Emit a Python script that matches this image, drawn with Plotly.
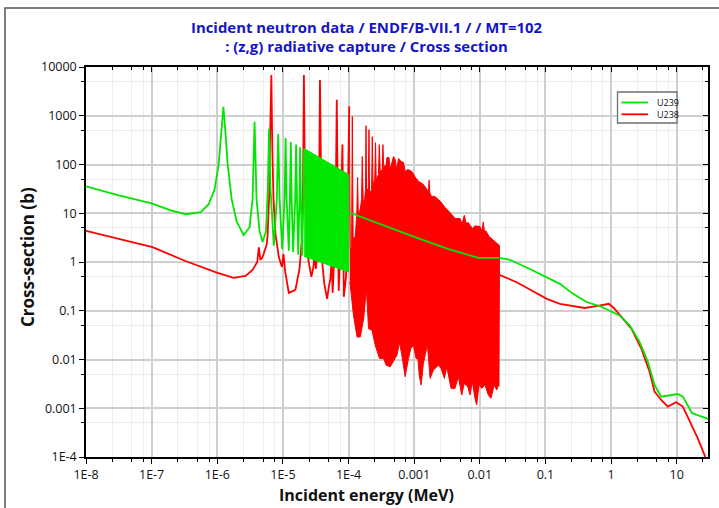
import math
import plotly.graph_objects as go

# ---------------- data (energies in MeV, cross sections in barns) ----------------
x_tick_vals = [1e-8, 1e-7, 1e-6, 1e-5, 1e-4, 1e-3, 1e-2, 1e-1, 1, 10]
x_tick_text = ["1E-8", "1E-7", "1E-6", "1E-5", "1E-4", "0.001", "0.01", "0.1", "1", "10"]
y_tick_vals = [1e-4, 1e-3, 1e-2, 1e-1, 1, 10, 100, 1000, 10000]
y_tick_text = ["1E-4", "0.001", "0.01", "0.1", "1", "10", "100", "1000", "10000"]

title_lines = ["Incident neutron data / ENDF/B-VII.1 / / MT=102",
               ": (z,g) radiative capture / Cross section"]
x_title = "Incident energy (MeV)"
y_title = "Cross-section (b)"
series_names = ["U239", "U238"]

# U239 - resolved, isolated resonances
u239_low_E = [1e-8, 3.18e-8, 1.0e-7, 1.96e-7, 3.31e-7, 5.6e-7, 7.4e-7, 9.1e-7, 1.05e-6, 1.15e-6,
              1.24e-6, 1.34e-6, 1.44e-6, 1.66e-6, 1.97e-6, 2.52e-6, 3.11e-6, 3.45e-6, 3.70e-6, 3.97e-6,
              4.41e-6, 4.90e-6, 5.53e-6, 5.89e-6, 6.15e-6, 6.48e-6, 7.27e-6, 8.07e-6, 8.49e-6, 8.91e-6,
              9.76e-6, 1.06e-5, 1.10e-5, 1.14e-5, 1.23e-5, 1.28e-5, 1.32e-5, 1.36e-5, 1.43e-5, 1.54e-5,
              1.59e-5, 1.64e-5, 1.71e-5, 1.79e-5, 1.83e-5, 1.88e-5, 1.96e-5, 2.05e-5, 2.11e-5]
u239_low_xs = [35.6, 23.3, 16.0, 11.5, 9.55, 10.5, 15.3, 30.9, 100, 409,
               1527, 409, 100, 19.3, 6.87, 3.56, 5.18, 19.3, 755, 19.3,
               4.29, 2.56, 4.29, 30.9, 543, 30.9, 2.15, 19.3, 423, 19.3,
               1.84, 19.3, 351, 19.3, 1.70, 19.3, 291, 19.3, 1.60, 19.3,
               256, 19.3, 1.41, 19.3, 225, 19.3, 1.35, 19.3, 212]

# U239 - dense resonance band (envelope)
u239_band_E = [2.11e-5, 1.0e-4]
u239_band_top = [212, 62.5]
u239_band_bottom = [1.30, 0.625]

# U239 - smooth continuum
u239_high_E = [1.0e-4, 3.27e-4, 1.03e-3, 3.17e-3, 9.48e-3, 2.03e-2, 2.88e-2, 5.79e-2, 0.105, 0.166,
               0.264, 0.421, 0.671, 0.953, 1.35, 1.92, 2.72, 3.64, 4.60, 5.81,
               7.78, 10.4, 12.4, 17.2, 28.1, 30]
u239_high_xs = [10.5, 5.69, 3.24, 1.89, 1.21, 1.21, 1.11, 0.72, 0.494, 0.356,
                0.222, 0.151, 0.125, 0.101, 0.0802, 0.0501, 0.0230, 0.00897, 0.00299, 0.00173,
                0.00187, 0.00196, 0.00173, 0.00079, 0.000625, 0.0006]

# U238 - low energy and isolated resonances
u238_low_E = [1e-8, 3.26e-8, 1.03e-7, 3.27e-7, 5.6e-7, 1.01e-6, 1.77e-6, 2.70e-6, 3.45e-6, 4.07e-6,
              4.30e-6, 4.54e-6, 4.90e-6, 5.35e-6, 5.63e-6, 5.83e-6, 6.15e-6, 6.32e-6, 6.67e-6, 6.90e-6,
              7.19e-6, 7.72e-6, 8.67e-6, 9.68e-6, 1.02e-5, 1.08e-5, 1.23e-5, 1.55e-5, 1.79e-5, 1.95e-5,
              2.03e-5, 2.09e-5, 2.16e-5, 2.27e-5, 2.45e-5, 2.72e-5, 2.92e-5, 3.05e-5, 3.18e-5, 3.41e-5,
              3.55e-5, 3.67e-5, 3.80e-5, 3.95e-5, 4.28e-5, 4.71e-5, 5.01e-5, 5.28e-5, 5.53e-5, 5.73e-5,
              6.08e-5, 6.43e-5, 6.62e-5, 6.81e-5, 7.08e-5, 7.38e-5, 7.64e-5, 8.07e-5, 8.26e-5, 8.47e-5,
              9.16e-5, 9.66e-5, 1.026e-4]
u238_low_xs = [4.35, 2.95, 2.02, 1.05, 0.79, 0.60, 0.471, 0.518, 0.687, 1.0,
               2.0, 1.1, 1.26, 1.84, 2.22, 3.24, 19.3, 202, 6870, 202,
               19.3, 3.73, 1.26, 0.79, 1.46, 0.66, 0.233, 0.268, 0.72, 2.95,
               49.4, 6870, 49.4, 4.29, 1.05, 0.494, 0.79, 1.46, 0.72, 1.84,
               19.3, 5430, 19.3, 1.05, 0.356, 0.176, 0.309, 0.450, 1.05, 0.233,
               1.46, 49.4, 2120, 49.4, 0.256, 1.05, 19.3, 256, 19.3, 0.193,
               0.494, 7.55, 1550]

# U238 - dense resolved resonance region: upper envelope
u238_top_E = [1.026e-4, 1.064e-4, 1.114e-4, 1.142e-4, 1.175e-4, 1.268e-4, 1.336e-4, 1.375e-4, 1.41e-4, 1.51e-4,
              1.58e-4, 1.62e-4, 1.67e-4, 1.74e-4, 1.81e-4, 1.85e-4, 1.88e-4, 2.0e-4, 2.05e-4, 2.09e-4,
              2.25e-4, 2.30e-4, 2.36e-4, 2.51e-4, 2.58e-4, 2.64e-4, 2.86e-4, 2.94e-4, 3.04e-4, 3.27e-4,
              3.34e-4, 3.44e-4, 3.75e-4, 3.85e-4, 4.13e-4, 4.32e-4, 4.84e-4, 5.14e-4, 5.42e-4, 5.77e-4,
              6.34e-4, 6.88e-4, 7.29e-4, 8.02e-4, 9.22e-4, 1.035e-3, 1.16e-3, 1.28e-3, 1.38e-3, 1.56e-3,
              1.65e-3, 1.69e-3, 1.73e-3, 1.81e-3, 2.08e-3, 2.48e-3, 2.96e-3, 3.52e-3, 4.20e-3, 5.0e-3,
              5.36e-3, 5.81e-3, 6.17e-3, 6.68e-3, 7.69e-3, 8.45e-3, 1.007e-2, 1.08e-2, 1.13e-2, 1.18e-2,
              1.24e-2, 1.38e-2, 1.55e-2, 1.81e-2, 1.96e-2, 2.0e-2]
u238_top_xs = [1550, 1.84, 1.84, 968, 2.95, 3.39, 9.54, 54.3, 9.54, 12.1,
               19.3, 146, 19.3, 15.3, 30.9, 625, 30.9, 30.9, 518, 24.4,
               30.9, 373, 39.1, 49.4, 281, 49.4, 62.5, 256, 72, 79,
               256, 86.9, 100, 139, 139, 79, 146, 126, 79, 132,
               115, 110, 72, 79, 72, 55.1, 45.6, 40.9, 39.1, 30.9,
               28.1, 47.8, 26.8, 22.6, 21.9, 17.8, 13.1, 10.3, 7.80, 7.80,
               5.97, 9.10, 6.25, 6.46, 4.87, 5.51, 5.35, 4.29, 6.64, 4.10,
               4.35, 3.35, 2.95, 2.52, 2.22, 2.12]

# U238 - dense resolved resonance region: lower envelope
u238_bot_E = [1.05e-4, 1.19e-4, 1.35e-4, 1.51e-4, 1.70e-4, 1.87e-4, 2.02e-4, 2.28e-4, 2.55e-4, 2.97e-4,
              3.41e-4, 3.75e-4, 4.32e-4, 4.84e-4, 5.46e-4, 5.98e-4, 6.50e-4, 7.29e-4, 8.19e-4, 8.91e-4,
              9.75e-4, 1.07e-3, 1.14e-3, 1.20e-3, 1.28e-3, 1.38e-3, 1.59e-3, 1.75e-3, 1.96e-3, 2.34e-3,
              2.57e-3, 2.89e-3, 3.14e-3, 3.65e-3, 4.20e-3, 4.71e-3, 5.31e-3, 5.81e-3, 6.55e-3, 7.10e-3,
              7.69e-3, 8.45e-3, 8.97e-3, 9.72e-3, 1.07e-2, 1.20e-2, 1.35e-2, 1.48e-2, 1.66e-2, 1.81e-2,
              1.91e-2, 1.96e-2, 2.0e-2]
u238_bot_xs = [0.391, 0.0802, 0.029, 0.029, 0.0687, 0.281, 0.0429, 0.0396, 0.0196, 0.0105,
               0.0105, 0.00765, 0.0071, 0.00897, 0.0122, 0.0222, 0.0122, 0.00444, 0.0105, 0.0168,
               0.0196, 0.0105, 0.0105, 0.00444, 0.00299, 0.00828, 0.0202, 0.00409, 0.00605, 0.00765,
               0.00655, 0.00409, 0.0071, 0.00256, 0.00256, 0.00444, 0.00187, 0.00324, 0.00277, 0.00187,
               0.00351, 0.0016, 0.00117, 0.00299, 0.00256, 0.00299, 0.00187, 0.0016, 0.00299, 0.00236,
               0.00299, 0.00281, 0.0212]

# U238 - smooth continuum
u238_high_E = [2.0e-2, 3.64e-2, 5.79e-2, 0.105, 0.166, 0.264, 0.397, 0.598, 0.800, 0.929,
               1.13, 1.52, 2.04, 2.89, 3.86, 4.60, 5.81, 7.32, 9.83, 12.4,
               16.6, 20.9, 27.1, 30]
u238_high_xs = [0.543, 0.385, 0.272, 0.175, 0.139, 0.125, 0.114, 0.125, 0.133, 0.139,
                0.110, 0.0687, 0.0429, 0.0168, 0.00561, 0.00219, 0.00148, 0.00108, 0.00133, 0.00108,
                0.000456, 0.000244, 0.000103, 0.00008]

# ---------------- styling ----------------
GREEN = "#00e600"
RED = "#ff0000"
LW = 1.8
FONT = "Open Sans"
W, H = 719, 508
ML, MR, MT, MB = 86, 11, 67, 51
PW, PH = W - ML - MR, H - MT - MB


def px_x(p):  # figure pixel -> paper fraction (for text/shape placement only)
    return (p - ML) / PW


def px_y(p):
    return (H - MB - p) / PH


fig = go.Figure()

# U238 (drawn first, below)
fig.add_trace(go.Scatter(x=u238_low_E, y=u238_low_xs, mode="lines", name="U238",
                         line=dict(color=RED, width=LW), showlegend=False))
fig.add_trace(go.Scatter(x=u238_top_E + u238_bot_E[::-1], y=u238_top_xs + u238_bot_xs[::-1],
                         mode="lines", fill="toself", fillcolor=RED, name="U238",
                         line=dict(color=RED, width=1), showlegend=False))
fig.add_trace(go.Scatter(x=u238_high_E, y=u238_high_xs, mode="lines", name="U238",
                         line=dict(color=RED, width=LW), showlegend=False))

# U239 (drawn on top)
fig.add_trace(go.Scatter(x=u239_low_E, y=u239_low_xs, mode="lines", name="U239",
                         line=dict(color=GREEN, width=LW), showlegend=False))
fig.add_trace(go.Scatter(x=u239_band_E + u239_band_E[::-1], y=u239_band_top + u239_band_bottom[::-1],
                         mode="lines", fill="toself", fillcolor=GREEN, name="U239",
                         line=dict(color=GREEN, width=1), showlegend=False))
fig.add_trace(go.Scatter(x=u239_high_E, y=u239_high_xs, mode="lines", name="U239",
                         line=dict(color=GREEN, width=LW), showlegend=False))

# empty trace so that the mirrored (top/right) axes are drawn
fig.add_trace(go.Scatter(x=[], y=[], xaxis="x2", yaxis="y2", showlegend=False, hoverinfo="skip"))

x_minor = [m * 10.0 ** d for d in range(-8, 2) for m in (2.5, 5, 7.5)]
y_minor = [5 * 10.0 ** d for d in range(-4, 4)]
xr = [-8, math.log10(30)]
yr = [-4, 4]

tickfont = dict(family=FONT, size=12.5, color="#111111")
common = dict(type="log", showline=True, linecolor="#000000", linewidth=1.5,
              zeroline=False, automargin=False)

title_font = dict(family=FONT, size=14.9, color="#1414c8", weight="bold")

annotations = [
    dict(text="<br>".join(title_lines), xref="paper", yref="paper", x=px_x(366), y=px_y(36.5),
         xanchor="center", yanchor="middle", showarrow=False, font=title_font),
    dict(text=x_title, xref="paper", yref="paper", x=px_x(366), y=px_y(495),
         xanchor="center", yanchor="middle", showarrow=False,
         font=dict(family=FONT, size=16, color="#111111", weight="bold")),
    dict(text=y_title, xref="paper", yref="paper", x=px_x(27), y=px_y(257),
         xanchor="center", yanchor="middle", showarrow=False, textangle=-90,
         font=dict(family=FONT, size=17, color="#111111", weight="bold")),
]

# legend box (drawn as shapes + text to match the compact original)
leg_colors = [GREEN, RED]
leg_rows = [102.5, 114.3]
shapes = [
    dict(type="rect", xref="paper", yref="paper",
         x0=px_x(5), x1=px_x(740), y0=px_y(530), y1=px_y(8),
         line=dict(color="#555555", width=1.5), fillcolor="rgba(0,0,0,0)", layer="below"),
    dict(type="rect", xref="paper", yref="paper",
         x0=px_x(617.5), x1=px_x(677), y0=px_y(123), y1=px_y(92),
         line=dict(color="#6f6f6f", width=1.3), fillcolor="white", layer="above"),
]
for name, col, row in zip(series_names, leg_colors, leg_rows):
    shapes.append(dict(type="line", xref="paper", yref="paper",
                       x0=px_x(621.5), x1=px_x(648), y0=px_y(row), y1=px_y(row),
                       line=dict(color=col, width=1.8), layer="above"))
    annotations.append(dict(text=name, xref="paper", yref="paper", x=px_x(655), y=px_y(row),
                            xanchor="left", yanchor="middle", showarrow=False,
                            font=dict(family=FONT, size=9, color="#111111")))

fig.update_layout(
    width=W, height=H,
    paper_bgcolor="white", plot_bgcolor="white",
    margin=dict(l=ML, r=MR, t=MT, b=MB, autoexpand=False),
    xaxis=dict(**common, range=xr, autorange=False, tickvals=x_tick_vals, ticktext=x_tick_text,
               ticks="outside", ticklen=5, tickwidth=1.2, tickcolor="#000", tickfont=tickfont,
               showgrid=True, gridcolor="#cfcfcf", gridwidth=1.5,
               minor=dict(tickvals=x_minor, showgrid=True, gridcolor="#ededed", gridwidth=1.2,
                          ticks="outside", ticklen=3, tickcolor="#000")),
    yaxis=dict(**common, range=yr, autorange=False, tickvals=y_tick_vals, ticktext=y_tick_text,
               ticks="outside", ticklen=5, tickwidth=1.2, tickcolor="#000", tickfont=tickfont,
               showgrid=True, gridcolor="#cfcfcf", gridwidth=1.5,
               minor=dict(tickvals=y_minor, showgrid=True, gridcolor="#ededed", gridwidth=1.2,
                          ticks="outside", ticklen=3, tickcolor="#000")),
    xaxis2=dict(**common, range=xr, autorange=False, overlaying="x", side="top", anchor="y",
                tickvals=x_tick_vals, ticks="inside", ticklen=5, tickcolor="#000",
                showticklabels=False, showgrid=False,
                minor=dict(tickvals=x_minor, ticks="inside", ticklen=3, tickcolor="#000", showgrid=False)),
    yaxis2=dict(**common, range=yr, autorange=False, overlaying="y", side="right", anchor="x",
                tickvals=y_tick_vals, ticks="inside", ticklen=5, tickcolor="#000",
                showticklabels=False, showgrid=False,
                minor=dict(tickvals=y_minor, ticks="inside", ticklen=3, tickcolor="#000", showgrid=False)),
    showlegend=False,
    annotations=annotations,
    shapes=shapes,
)

# remove the page's default body margin so the figure sits at the window origin
fig.write_html("out.html", config={"displayModeBar": False},
               post_script="document.body.style.margin='0px';")
